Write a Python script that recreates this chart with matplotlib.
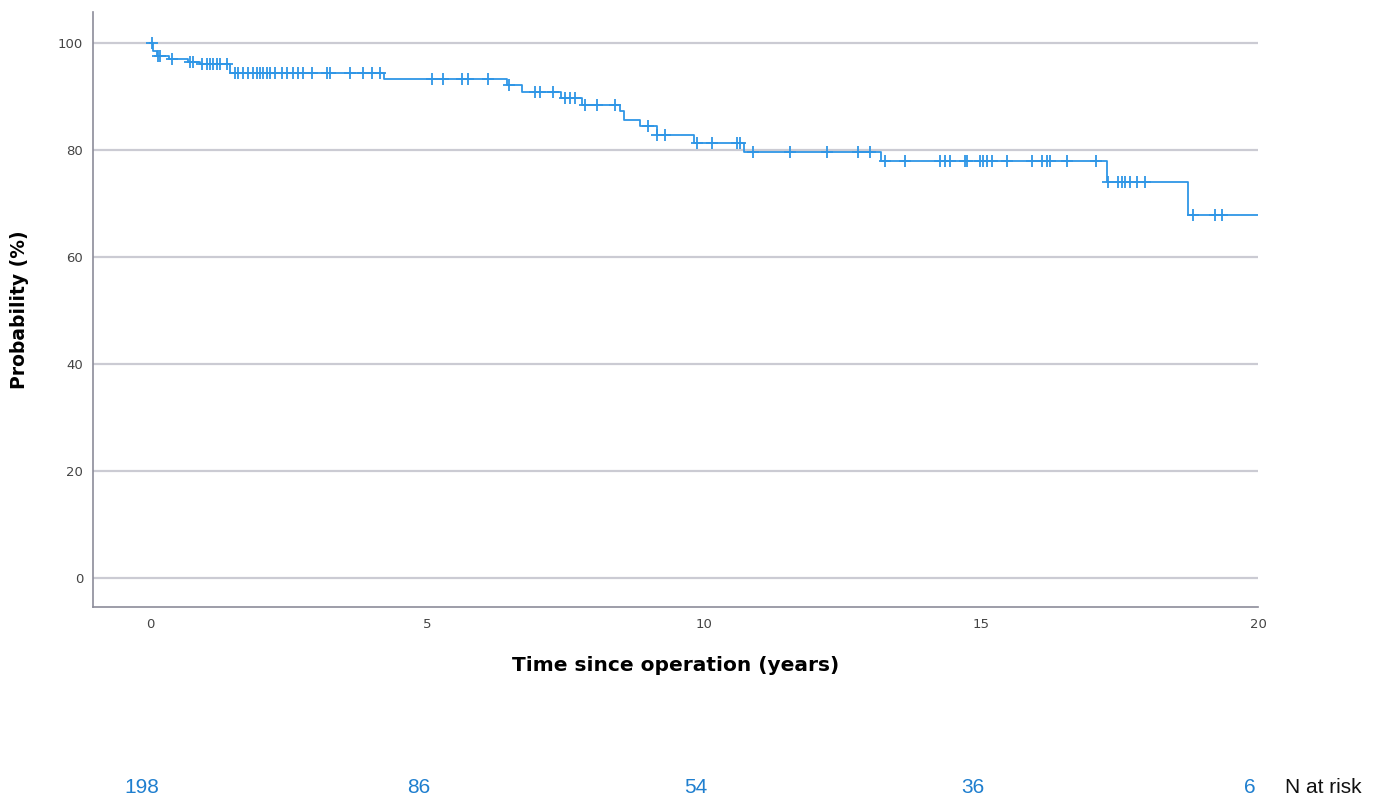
import numpy as np
import matplotlib
matplotlib.use("Agg")
import matplotlib.pyplot as plt
import matplotlib.transforms as mtransforms

# Kaplan-Meier steps: time (years) where the curve drops, and the level after the drop (%)
step_times = [0.0, 0.06, 0.12, 0.35, 0.68, 0.9, 1.45, 4.22, 6.45, 6.72, 7.42, 7.8,
              8.48, 8.55, 8.85, 9.15, 9.82, 10.72, 13.2, 17.27, 18.73]
step_levels = [100.0, 98.5, 97.5, 97.0, 96.5, 96.0, 94.4, 93.2, 92.1, 90.9, 89.8, 88.5,
               87.2, 85.6, 84.4, 82.8, 81.3, 79.7, 77.9, 74.0, 67.9]
follow_up_end = 20.0

# censored observations (years)
censor_times = [0.03, 0.15, 0.18, 0.4, 0.72, 0.78, 0.94, 1.03, 1.08, 1.14, 1.21, 1.26, 1.39,
                1.53, 1.59, 1.68, 1.77, 1.86, 1.93, 1.99, 2.04, 2.11, 2.17, 2.26, 2.38,
                2.47, 2.58, 2.67, 2.76, 2.92, 3.19, 3.25, 3.61, 3.84, 4.01, 4.15,
                5.09, 5.29, 5.63, 5.74, 6.10, 6.48, 6.95, 7.04, 7.27, 7.49, 7.58, 7.67,
                7.85, 8.07, 8.39, 8.99, 9.15, 9.30, 9.87, 10.14, 10.6, 10.65,
                10.88, 11.55, 12.22, 12.78, 13.0, 13.27, 13.63, 14.26, 14.35, 14.44,
                14.71, 14.75, 14.98, 15.04, 15.11, 15.2, 15.47, 15.92, 16.1, 16.19,
                16.25, 16.55, 17.08, 17.29, 17.47, 17.55, 17.6, 17.69, 17.82, 17.96,
                18.83, 19.22, 19.35]

risk_times = [0, 5, 10, 15, 20]
n_at_risk = [198, 86, 54, 36, 6]

line_color = "#2f96e6"
risk_color = "#1f7fcf"

fig = plt.figure(figsize=(13.8, 7.97), dpi=100)
ax = fig.add_axes([0.0674, 0.2384, 0.9116 - 0.0674, 0.985 - 0.2384])

xs = step_times + [follow_up_end]
ys = step_levels + [step_levels[-1]]
ax.step(xs, ys, where="post", color=line_color, lw=1.3, zorder=3)

idx = np.searchsorted(step_times, censor_times, side="right") - 1
censor_levels = np.array(step_levels)[idx]
ax.plot(censor_times, censor_levels, linestyle="none", marker="+", markersize=8,
        markeredgewidth=1.3, color=line_color, zorder=4)

ax.set_xlim(-1.03, 20)
ax.set_ylim(-5.4, 105.8)
ax.set_xticks([0, 5, 10, 15, 20])
ax.set_yticks([0, 20, 40, 60, 80, 100])
ax.tick_params(length=0, labelsize=9.5, colors="#444444")
ax.tick_params(axis="y", pad=7)
ax.tick_params(axis="x", pad=8)
ax.yaxis.grid(True, color="#cbcbd3", lw=1.6)
ax.set_axisbelow(True)
for side in ["top", "right"]:
    ax.spines[side].set_visible(False)
for side in ["left", "bottom"]:
    ax.spines[side].set_color("#8c8c99")
    ax.spines[side].set_linewidth(1.2)

ax.set_xlabel("Time since operation (years)", fontsize=14.5, fontweight="bold", va="center")
ax.set_ylabel("Probability (%)", fontsize=13.5, fontweight="bold", va="center")
ax.xaxis.set_label_coords(0.5, -0.0975)
ax.yaxis.set_label_coords(-0.0627, 0.5)

# number at risk row below the axes
trans = mtransforms.blended_transform_factory(ax.transData, fig.transFigure)
for t, n in zip(risk_times, n_at_risk):
    ax.text(t - 0.15, 0.005, str(n), transform=trans, ha="center", va="baseline",
            fontsize=15, family="Liberation Sans", color=risk_color)
fig.text(1285 / 1380, 0.005, "N at risk", ha="left", va="baseline",
         fontsize=15, family="Liberation Sans", color="#111111")

fig.savefig("out.png", dpi=100)
